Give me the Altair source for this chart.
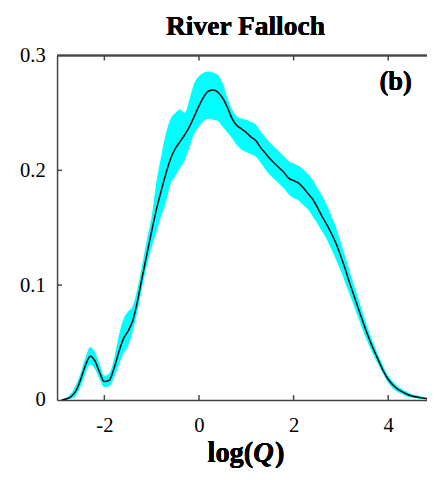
import altair as alt
import pandas as pd

# log(Q) grid
log_q = [-2.9, -2.8, -2.7, -2.6, -2.5, -2.4, -2.3, -2.2, -2.1, -2.0,
         -1.9, -1.8, -1.7, -1.6, -1.5, -1.4, -1.3, -1.2, -1.1, -1.0,
         -0.9, -0.8, -0.7, -0.6, -0.5, -0.4, -0.3, -0.2, -0.1, 0.0,
         0.1, 0.2, 0.3, 0.4, 0.5, 0.6, 0.7, 0.8, 0.9, 1.0,
         1.1, 1.2, 1.3, 1.4, 1.5, 1.6, 1.7, 1.8, 1.9, 2.0,
         2.1, 2.2, 2.3, 2.4, 2.5, 2.6, 2.7, 2.8, 2.9, 3.0,
         3.1, 3.2, 3.3, 3.4, 3.5, 3.6, 3.7, 3.8, 3.9, 4.0,
         4.1, 4.2, 4.3, 4.4, 4.5, 4.6, 4.7, 4.82]

density_mean = [0.0, 0.001, 0.003, 0.008, 0.018, 0.030, 0.038, 0.034, 0.024, 0.016,
                0.017, 0.027, 0.041, 0.053, 0.060, 0.069, 0.086, 0.107, 0.127, 0.147,
                0.166, 0.182, 0.197, 0.210, 0.219, 0.225, 0.231, 0.238, 0.247, 0.256,
                0.264, 0.269, 0.270, 0.268, 0.263, 0.255, 0.245, 0.239, 0.236, 0.233,
                0.229, 0.226, 0.220, 0.215, 0.210, 0.206, 0.202, 0.198, 0.193, 0.191,
                0.189, 0.185, 0.180, 0.175, 0.168, 0.160, 0.153, 0.145, 0.136, 0.125,
                0.113, 0.100, 0.088, 0.076, 0.064, 0.053, 0.043, 0.034, 0.025, 0.018,
                0.013, 0.0095, 0.007, 0.005, 0.0035, 0.0025, 0.0018, 0.001]

density_upper = [0.0005, 0.002, 0.006, 0.013, 0.024, 0.037, 0.046, 0.042, 0.031, 0.021,
                 0.023, 0.035, 0.055, 0.070, 0.077, 0.082, 0.097, 0.118, 0.140, 0.160,
                 0.190, 0.212, 0.232, 0.245, 0.250, 0.253, 0.250, 0.262, 0.276, 0.282,
                 0.285, 0.286, 0.285, 0.283, 0.276, 0.263, 0.253, 0.247, 0.245, 0.244,
                 0.242, 0.240, 0.234, 0.229, 0.224, 0.220, 0.216, 0.212, 0.208, 0.206,
                 0.204, 0.201, 0.197, 0.192, 0.185, 0.178, 0.170, 0.160, 0.150, 0.137,
                 0.124, 0.110, 0.097, 0.084, 0.071, 0.059, 0.048, 0.038, 0.029, 0.021,
                 0.016, 0.012, 0.009, 0.007, 0.005, 0.004, 0.003, 0.002]

density_lower = [0.0, 0.0, 0.001, 0.004, 0.012, 0.023, 0.031, 0.027, 0.018, 0.011,
                 0.012, 0.019, 0.030, 0.040, 0.047, 0.060, 0.077, 0.098, 0.117, 0.133,
                 0.146, 0.160, 0.172, 0.188, 0.195, 0.202, 0.209, 0.220, 0.232, 0.238,
                 0.243, 0.245, 0.244, 0.243, 0.238, 0.233, 0.228, 0.222, 0.218, 0.216,
                 0.214, 0.212, 0.207, 0.201, 0.196, 0.192, 0.188, 0.184, 0.179, 0.176,
                 0.174, 0.170, 0.166, 0.160, 0.154, 0.147, 0.140, 0.131, 0.122, 0.112,
                 0.101, 0.090, 0.079, 0.068, 0.057, 0.047, 0.038, 0.030, 0.022, 0.015,
                 0.010, 0.007, 0.005, 0.003, 0.002, 0.0015, 0.001, 0.0005]

x_ticks = [-2, 0, 2, 4]
y_ticks = [0, 0.1, 0.2, 0.3]
y_inner_ticks = [0.1, 0.2]

W, H = 377, 351
SERIF = "Liberation Serif"
AX = "#444444"

df = pd.DataFrame({"x": log_q, "m": density_mean, "lo": density_lower, "hi": density_upper})
xt = pd.DataFrame({"x": x_ticks})
yt = pd.DataFrame({"y": y_inner_ticks})

xscale = alt.Scale(domain=[-3, 4.82], nice=False, zero=False)
yscale = alt.Scale(domain=[0, 0.3], nice=False)

xaxis = alt.Axis(values=x_ticks, labelExpr="'' + datum.value", ticks=False, grid=False,
                 domainColor=AX, domainWidth=1.5, labelFont=SERIF, labelFontSize=21,
                 labelColor="black", labelPadding=15, labelOverlap=False, title=None)
yaxis = alt.Axis(values=y_ticks, labelExpr="'' + datum.value", ticks=False, grid=False,
                 domainColor=AX, domainWidth=1.5, labelFont=SERIF, labelFontSize=21,
                 labelColor="black", labelPadding=12, labelOverlap=False, title=None)

band = alt.Chart(df).mark_area(color="#00FFFF", opacity=1, clip=True,
                               interpolate="monotone").encode(
    x=alt.X("x:Q", scale=xscale, axis=xaxis),
    y=alt.Y("lo:Q", scale=yscale, axis=yaxis),
    y2="hi:Q",
)

line = alt.Chart(df).mark_line(color="black", strokeWidth=1.5, clip=True,
                               interpolate="monotone").encode(
    x=alt.X("x:Q", scale=xscale),
    y=alt.Y("m:Q", scale=yscale),
)

bottom_ticks = alt.Chart(xt).mark_rule(color=AX, strokeWidth=1.5).encode(
    x=alt.X("x:Q", scale=xscale), y=alt.value(H), y2=alt.value(H - 5))
top_ticks = alt.Chart(xt).mark_rule(color=AX, strokeWidth=1.5).encode(
    x=alt.X("x:Q", scale=xscale), y=alt.value(0), y2=alt.value(5))
left_ticks = alt.Chart(yt).mark_rule(color=AX, strokeWidth=1.5).encode(
    y=alt.Y("y:Q", scale=yscale), x=alt.value(0), x2=alt.value(5))
top_line = alt.Chart(xt).mark_rule(color=AX, strokeWidth=1.5).encode(
    x=alt.value(0), x2=alt.value(W), y=alt.value(0))

title = alt.Chart(xt).mark_text(text="River Falloch", font=SERIF, fontSize=28,
                                fontWeight="bold", color="black", align="center",
                                baseline="alphabetic").encode(
    x=alt.value(192), y=alt.value(-21))
panel = alt.Chart(xt).mark_text(text="(b)", font=SERIF, fontSize=27, fontWeight="bold",
                                color="black", align="center", baseline="alphabetic").encode(
    x=alt.value(345), y=alt.value(35))
xt1 = alt.Chart(xt).mark_text(text="log(", font=SERIF, fontSize=29, fontWeight="bold",
                              color="black", align="right", baseline="alphabetic").encode(
    x=alt.value(200), y=alt.value(414))
xt2 = alt.Chart(xt).mark_text(text="Q", font=SERIF, fontSize=29, fontWeight="bold",
                              fontStyle="italic", color="black", align="left",
                              baseline="alphabetic").encode(
    x=alt.value(200), y=alt.value(414))
xt3 = alt.Chart(xt).mark_text(text=")", font=SERIF, fontSize=29, fontWeight="bold",
                              color="black", align="left", baseline="alphabetic").encode(
    x=alt.value(222), y=alt.value(414))

chart = alt.layer(band, line, bottom_ticks, top_ticks, left_ticks, top_line,
                  title, panel, xt1, xt2, xt3).properties(
    width=W, height=H,
    autosize=alt.AutoSizeParams(type="none"),
    padding={"left": 50, "top": 44, "right": 0, "bottom": 69},
).configure_view(stroke=None).configure(background="white")

chart.save("out.html", embed_options={"renderer": "svg", "actions": False})
